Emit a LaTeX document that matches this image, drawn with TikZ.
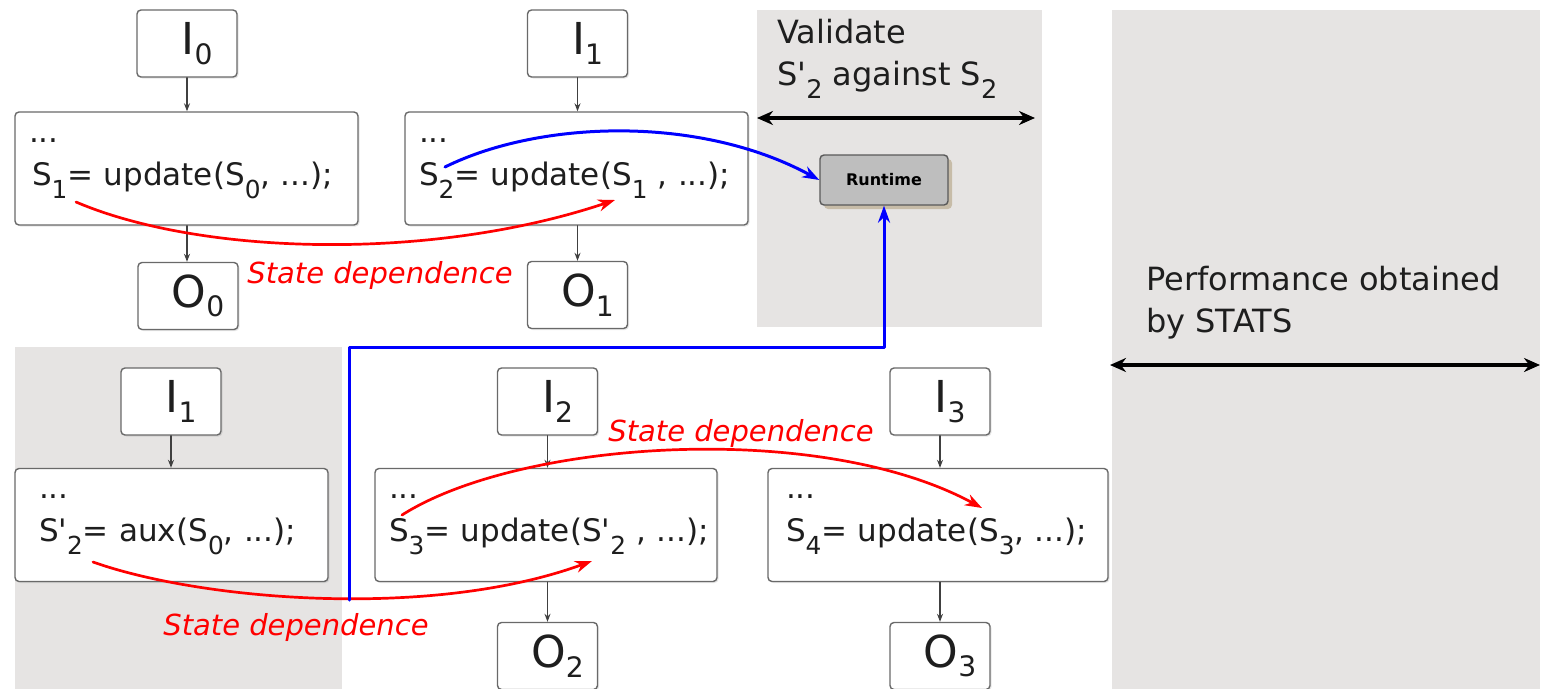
\documentclass[tikz,border=0pt]{standalone}
\usepackage{fontspec}
\setmainfont{DejaVu Sans}
\usepackage{graphicx}
\usetikzlibrary{arrows.meta,shadows}
\definecolor{panelgray}{RGB}{230,228,227}
\definecolor{rtgray}{RGB}{190,190,190}
\definecolor{boxline}{RGB}{105,105,105}
\definecolor{rtshadow}{RGB}{170,150,110}
\definecolor{codeink}{RGB}{30,30,30}
\newcommand{\lowidx}[1]{\raisebox{-0.42em}{\scalebox{0.8}{#1}}}
\newcommand{\ioidx}[1]{\raisebox{-0.22em}{\scalebox{0.64}{#1}}}
\newcommand{\apos}{\textquotesingle}

\begin{document}
\begin{tikzpicture}[x=1pt,y=1pt,line cap=round,line join=round,>={Stealth[length=8pt,width=6pt]},
  panel/.style={fill=panelgray,draw=none},
  iobox/.style={draw=boxline,line width=1.4pt,rounded corners=4pt,fill=white,text=codeink,minimum width=100pt,minimum height=67pt,inner sep=0pt,font=\fontsize{44}{48}\selectfont,drop shadow={shadow xshift=1.5pt,shadow yshift=-1.5pt,opacity=0.2}},
  codebox/.style={draw=boxline,line width=1.4pt,rounded corners=4pt,fill=white,text=codeink,minimum height=113pt,inner xsep=14pt,align=left,font=\fontsize{31}{43}\selectfont,drop shadow={shadow xshift=1.5pt,shadow yshift=-1.5pt,opacity=0.2}},
  rtbox/.style={draw=black!65,line width=1.4pt,rounded corners=4pt,fill=rtgray,minimum width=128pt,minimum height=50pt,inner sep=0pt,font=\bfseries\fontsize{16}{18}\selectfont,drop shadow={shadow xshift=4pt,shadow yshift=-4pt,opacity=0.5,fill=rtshadow}},
  flow/.style={->,line width=1.1pt,draw=black!75},
  dep/.style={-{Stealth[length=17pt,width=12pt]},red,line width=2.7pt},
  deplabel/.style={text=red,inner sep=0pt,font=\itshape\fontsize{29}{32}\selectfont},
  ctrl/.style={-{Stealth[length=17pt,width=12pt]},blue,line width=3pt},
  span/.style={{Stealth[length=16pt,width=14pt]}-{Stealth[length=16pt,width=14pt]},line width=3.8pt},
  note/.style={align=left,inner sep=0pt,anchor=north west,text=codeink,font=\fontsize{32}{42}\selectfont}]
\useasboundingbox (0,0) rectangle (1549,-688);

\fill[panel] (757,-10) rectangle (1042,-327);
\fill[panel] (1112,-10) rectangle (1540,-695);
\fill[panel] (15,-347) rectangle (342,-695);

\node[iobox] (i0) at (187,-43.5) {\hspace*{20pt}I\ioidx{0}};
\node[codebox,text width=315pt] (codeA) at (186.5,-168.5) {...\\\hspace*{3pt}\mbox{S\lowidx{1}= update(S\lowidx{0}, ...);}};
\node[iobox] (o0) at (188,-296) {\hspace*{20pt}O\ioidx{0}};

\node[iobox] (i1a) at (577.5,-43.5) {\hspace*{20pt}I\ioidx{1}};
\node[codebox,text width=315pt] (codeB) at (576.5,-168.5) {...\\\mbox{S\lowidx{2}= update(S\lowidx{1} , ...);}};
\node[iobox] (o1) at (577.5,-295) {\hspace*{20pt}O\ioidx{1}};

\node[rtbox] (rt) at (884,-180) {Runtime};

\node[iobox] (i1b) at (171,-401.5) {\hspace*{20pt}I\ioidx{1}};
\node[codebox,text width=285pt] (codeC) at (171.5,-525) {\hspace*{10pt}...\\\hspace*{10pt}\mbox{S\apos\lowidx{2}= aux(S\lowidx{0}, ...);}};

\node[iobox] (i2) at (547.5,-401.5) {\hspace*{20pt}I\ioidx{2}};
\node[codebox,text width=314pt] (codeD) at (546,-525) {...\\\mbox{S\lowidx{3}= update(S\apos\lowidx{2} , ...);}};
\node[iobox] (o2) at (547.5,-656) {\hspace*{20pt}O\ioidx{2}};

\node[iobox] (i3) at (940,-401.5) {\hspace*{20pt}I\ioidx{3}};
\node[codebox,text width=312pt] (codeE) at (938,-525) {\hspace*{4pt}...\\\hspace*{4pt}\mbox{S\lowidx{4}= update(S\lowidx{3}, ...);}};
\node[iobox] (o3) at (940,-656) {\hspace*{20pt}O\ioidx{3}};

\draw[flow] (i0.south) -- (i0.south |- codeA.north);
\draw[flow] (codeA.south -| i0.south) -- (o0.north -| i0.south);
\draw[flow] (i1a.south) -- (i1a.south |- codeB.north);
\draw[flow] (codeB.south -| i1a.south) -- (o1.north -| i1a.south);
\draw[flow] (i1b.south) -- (i1b.south |- codeC.north);
\draw[flow] (i2.south) -- (i2.south |- codeD.north);
\draw[flow] (codeD.south -| i2.south) -- (o2.north -| i2.south);
\draw[flow] (i3.south) -- (i3.south |- codeE.north);
\draw[flow] (codeE.south -| i3.south) -- (o3.north -| i3.south);

\node[note] (validate) at (777,-19) {Validate\\S\apos\lowidx{2} against S\lowidx{2}};
\coordinate (vl) at (757,-118);
\coordinate (vr) at (1035,-118);
\draw[span] (vl) -- (vr);

\node[note] (perf) at (1146,-266) {Performance obtained\\by STATS};
\coordinate (pl) at (1110,-365);
\coordinate (pr) at (1540,-365);
\draw[span] (pl) -- (pr);

\coordinate (s1) at (76,-202);
\coordinate (s1in) at (615,-200);
\draw[dep] (s1) .. controls (200,-255) and (430,-262) .. (s1in);
\node[deplabel] (dep1) at (380,-275) {State dependence};

\coordinate (s2p) at (93,-562);
\coordinate (s2pin) at (592,-561);
\draw[dep] (s2p) .. controls (200,-600) and (430,-620) .. (s2pin);
\node[deplabel] (dep2) at (296,-627) {State dependence};

\coordinate (s3) at (402,-515);
\coordinate (s3in) at (982,-508);
\draw[dep] (s3) .. controls (520,-440) and (820,-420) .. (s3in);
\node[deplabel] (dep3) at (741,-433) {State dependence};

\coordinate (s2) at (445,-167);
\draw[ctrl] (s2) .. controls (540,-120) and (700,-115) .. (rt.west);
\coordinate (bluefoot) at (349,-600);
\draw[ctrl] (bluefoot) -- ++(0,253) -| (rt.south);
\end{tikzpicture}
\end{document}
